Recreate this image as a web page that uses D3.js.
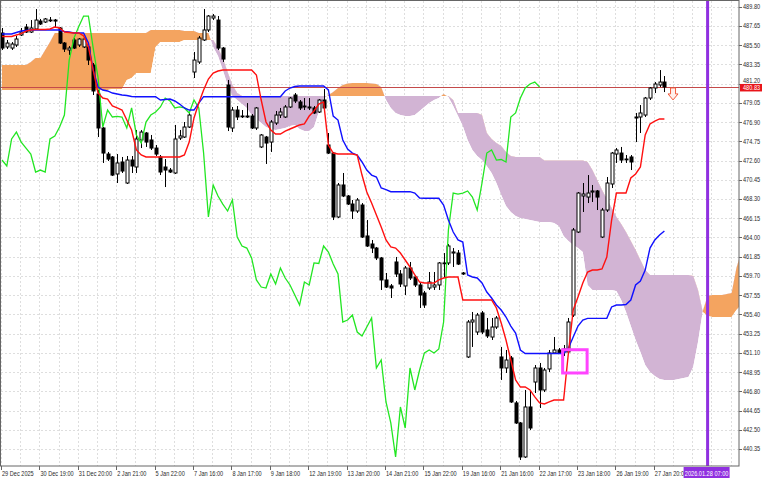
<!DOCTYPE html>
<html><head><meta charset="utf-8">
<script src="https://cdn.jsdelivr.net/npm/d3@7"></script>
<style>
html,body{margin:0;padding:0;background:#fff;}
svg{display:block;}
text{font-family:"Liberation Sans",Arial,sans-serif;font-size:7px;fill:#2a2a2a;}
</style></head><body>
<svg id="chart" width="768" height="480"></svg>
<script>
// ---------- data ----------
const timeLabels = ["29 Dec 2025","30 Dec 19:00","31 Dec 20:00","2 Jan 21:00","5 Jan 22:00","7 Jan 16:00","8 Jan 17:00","9 Jan 18:00","12 Jan 19:00","13 Jan 20:00","14 Jan 21:00","15 Jan 22:00","19 Jan 16:00","21 Jan 16:00","22 Jan 17:00","23 Jan 18:00","26 Jan 19:00","27 Jan 20:00"];
const barsPerLabel = 8;
const priceTicks = [489.80,487.65,485.50,483.35,481.20,479.05,476.90,474.75,472.60,470.45,468.30,466.15,464.00,461.85,459.70,457.55,455.40,453.25,451.10,448.95,446.80,444.65,442.50,440.35];
const currentPrice = 480.83;
const markerTimeLabel = "2026.01.28 07:00";
const markerBar = 147;
const signalArrow = {bar: 139.8, price: 480.72};
const highlightBox = {bar0: 116.8, bar1: 121.9, top: 451.45, bottom: 448.85};

const opens = [486.86,485.30,485.18,485.52,486.64,487.53,486.97,487.31,488.20,488.09,
488.31,488.31,487.42,485.74,484.96,486.08,485.52,485.30,485.30,483.28,
480.04,476.24,473.33,473.00,471.10,472.44,470.09,472.66,471.88,474.90,
475.68,474.90,474.00,473.00,471.88,471.54,471.21,475.12,475.23,476.35,
482.50,483.62,486.08,487.20,488.54,488.31,485.18,481.05,476.24,478.25,
477.58,477.58,477.58,476.24,474.12,475.23,474.67,476.80,477.69,477.47,
478.59,479.93,479.15,478.70,478.59,478.48,478.03,479.37,474.34,473.44,
466.29,469.87,468.64,467.74,466.96,467.63,464.17,463.27,462.82,461.71,
459.25,458.58,461.26,459.92,458.58,460.59,459.58,458.69,457.79,458.35,
458.46,458.69,461.15,461.15,462.26,462.26,460.03,450.64,454.55,453.43,
455.56,453.66,452.87,453.99,450.64,449.41,450.53,445.50,443.26,439.46,
445.05,447.84,449.41,446.95,449.30,451.09,451.42,451.20,451.20,455.33,
464.61,468.64,468.52,469.08,469.20,464.05,467.07,469.98,473.33,473.44,
472.77,473.00,477.36,477.47,477.69,479.59,480.71,481.05,481.38];
const highs = [487.42,486.08,485.85,486.53,487.42,487.87,488.31,489.54,488.43,488.54,
488.65,488.43,487.53,485.85,485.41,486.30,486.30,486.41,485.41,483.51,
480.49,476.35,473.56,473.11,473.33,473.00,473.11,473.11,476.02,476.02,
475.79,475.46,474.34,473.22,472.77,471.77,476.58,476.02,476.91,477.92,
484.74,486.53,489.54,488.87,488.98,488.76,485.30,481.61,478.59,478.70,
478.25,479.03,477.80,478.59,475.57,475.35,477.13,478.14,478.48,478.81,
479.71,480.15,479.37,479.59,479.59,478.70,479.48,480.60,475.68,473.56,
470.09,471.21,468.75,468.19,468.41,467.85,465.95,463.72,462.94,461.82,
460.03,458.80,461.82,460.36,460.81,461.26,459.81,458.91,458.02,460.14,
460.14,461.26,462.26,463.27,462.82,462.60,460.14,454.77,455.67,455.56,
455.78,455.00,455.00,455.22,451.76,451.42,450.75,445.72,443.37,446.95,
446.95,449.74,449.97,449.41,451.42,452.87,451.64,451.98,455.00,465.06,
469.08,470.09,470.98,469.87,469.31,467.30,470.76,473.56,474.00,474.12,
473.22,473.22,477.92,478.81,479.71,480.82,481.38,482.72,482.05];
const lows = [484.96,485.07,484.96,485.30,486.53,486.86,486.86,487.20,487.76,487.98,
488.09,487.53,485.63,484.74,484.40,485.07,485.30,485.18,483.28,479.93,
475.23,472.33,472.55,470.87,470.09,471.21,469.98,471.21,471.21,474.00,
474.12,473.78,473.11,470.98,469.64,471.21,471.10,474.90,475.12,476.24,
481.83,483.40,485.97,486.97,488.31,484.96,483.62,475.90,475.79,477.13,
477.36,477.36,476.13,476.02,474.00,472.22,473.56,476.58,477.36,477.36,
478.48,479.03,478.25,478.25,478.25,477.80,477.92,478.25,473.33,465.95,
466.18,468.52,467.63,466.07,466.74,463.94,462.94,462.26,461.48,458.13,
458.35,457.23,459.58,458.46,457.57,459.25,458.46,456.12,456.12,458.13,
458.13,458.13,459.58,460.92,460.70,460.92,459.81,450.53,451.76,453.10,
453.21,452.76,452.54,453.77,448.07,448.85,445.50,443.15,439.12,439.35,
442.48,446.61,444.94,446.72,448.96,450.97,450.97,450.75,451.09,455.11,
464.50,466.85,467.85,467.97,467.07,463.94,466.85,469.53,472.33,472.33,
472.33,471.54,474.67,475.68,477.47,479.37,480.15,480.82,480.26];
const closes = [485.18,485.74,485.63,486.19,486.97,486.97,487.42,488.31,487.87,488.43,
488.26,488.20,485.74,485.07,485.18,485.18,486.19,486.19,483.84,480.38,
476.24,473.44,472.77,470.98,472.33,471.43,472.66,471.99,475.01,475.79,
474.67,474.00,473.33,471.32,471.54,471.32,475.01,475.35,476.35,477.69,
483.84,486.30,487.20,488.76,488.76,485.18,483.95,476.35,478.25,477.47,
477.53,477.47,476.24,478.48,475.46,474.56,476.91,477.69,478.03,478.59,
479.59,479.26,478.48,478.59,478.48,477.92,479.37,478.48,473.44,466.29,
469.87,468.64,467.74,466.96,468.19,464.05,463.05,462.82,461.71,459.25,
458.46,458.35,459.92,458.80,460.59,459.47,458.69,457.57,456.45,459.02,
458.69,461.15,461.09,463.05,462.38,461.03,459.92,454.55,454.77,455.33,
453.43,452.99,453.99,455.00,449.41,450.30,445.61,443.26,439.46,445.05,
442.70,449.41,446.95,449.18,451.09,451.42,451.09,451.53,454.55,464.84,
468.97,468.86,468.97,469.20,468.52,467.07,470.09,473.44,473.78,472.66,
472.72,472.44,477.47,477.92,479.59,480.71,481.16,481.38,480.83];

const tenkan = [486.47,486.47,486.47,486.64,486.80,487.08,487.20,487.25,487.25,487.25,
487.31,487.53,487.42,486.97,486.92,486.86,486.86,486.53,485.30,482.72,
480.15,479.59,479.48,478.70,478.48,478.25,477.13,476.02,473.78,473.22,
473.00,473.00,473.00,473.00,473.00,473.00,473.00,473.00,473.22,474.67,
477.36,479.03,480.49,481.72,482.39,482.61,482.72,482.72,482.72,482.72,
482.72,482.72,482.72,482.17,479.37,476.91,476.02,475.57,475.57,475.90,
476.13,476.35,476.58,476.69,477.58,478.14,478.92,479.15,474.34,473.44,
473.33,473.33,473.33,473.33,473.22,470.98,469.08,467.85,466.51,465.17,
463.72,462.94,462.82,462.26,461.48,460.70,459.81,459.02,458.91,458.91,
458.91,459.25,459.47,459.58,459.58,459.58,457.01,457.01,457.01,457.01,
457.01,457.01,457.01,456.12,454.44,452.54,450.30,448.07,447.28,447.28,
446.95,446.17,445.50,445.38,445.61,445.83,445.83,445.83,451.09,455.89,
457.35,458.91,460.14,460.36,460.36,460.48,461.82,465.95,468.97,468.97,
468.97,470.65,471.10,471.88,475.46,476.69,477.02,477.25,477.25];
const kijun = [486.75,486.75,486.75,486.92,487.08,487.14,487.20,487.20,487.20,487.20,
487.20,487.20,487.20,487.03,486.97,486.86,486.86,486.86,485.74,482.72,
480.82,480.49,480.38,480.15,480.04,479.93,479.87,479.76,479.74,479.74,
479.74,479.74,479.74,479.37,479.43,479.48,479.26,478.92,478.48,478.25,
478.25,479.03,479.74,479.74,479.74,479.74,479.74,479.74,479.74,479.74,
479.74,479.74,479.74,479.74,479.74,479.74,479.74,479.74,479.74,480.38,
480.71,480.88,480.94,480.94,480.94,480.94,480.94,480.94,480.49,477.58,
477.13,474.90,473.89,473.44,473.22,472.44,471.54,470.98,470.76,469.53,
469.36,469.12,469.12,469.12,469.12,469.12,468.97,468.41,468.38,468.38,
468.38,468.38,467.63,465.95,464.61,463.72,463.49,459.81,459.58,459.47,
458.91,457.90,457.23,456.45,455.89,455.11,454.10,453.32,451.42,451.03,
451.03,451.03,451.03,451.03,451.03,451.03,451.03,451.03,451.64,452.87,
454.10,454.77,454.96,454.96,454.96,454.96,454.96,456.23,456.45,456.45,
456.51,457.01,458.69,459.13,460.36,462.82,463.72,464.28,464.72];
const chikou = [472.66,471.99,475.01,475.79,474.67,474.00,473.33,471.32,471.54,471.32,
475.01,475.35,476.35,477.69,483.84,486.30,487.60,488.76,488.76,485.18,
481.90,476.35,478.25,477.47,477.53,477.47,476.24,478.48,475.46,474.56,
476.91,477.69,478.03,478.59,479.59,479.26,478.48,478.59,478.48,477.92,
479.37,478.48,473.44,466.29,469.87,468.64,467.74,466.96,468.19,464.05,
463.05,462.82,461.71,459.25,458.46,458.35,459.92,458.80,460.59,459.47,
458.69,457.57,456.45,459.02,458.69,461.15,461.09,463.05,462.38,461.03,
459.92,454.55,454.77,455.33,453.43,452.99,453.99,455.00,449.41,450.30,
445.61,443.26,439.46,445.05,442.70,449.41,446.95,449.18,451.09,451.42,
451.09,451.53,454.55,464.84,468.97,468.86,468.97,469.20,468.52,467.07,
470.09,473.44,473.78,472.66,472.72,472.44,477.47,477.92,479.59,480.71,
481.16,481.38,480.83];
const spanA = [483.28,483.28,483.28,483.28,483.28,483.28,483.62,484.07,484.07,484.96,
485.85,486.86,486.86,486.86,486.86,486.86,486.86,486.86,486.86,486.86,
486.86,486.86,486.86,486.86,486.86,486.86,486.86,486.86,486.86,486.86,
486.86,487.20,487.20,487.20,487.20,487.20,487.20,487.20,487.08,487.08,
487.08,486.86,486.86,486.86,485.30,484.29,482.72,481.05,479.82,479.37,
478.92,478.48,477.69,477.25,476.80,476.35,476.13,476.02,476.13,476.24,
476.46,476.58,476.13,475.90,475.90,476.35,478.03,479.48,479.93,480.26,
480.71,481.05,481.21,481.27,481.27,481.27,481.27,481.21,481.16,480.82,
479.37,478.48,477.92,477.69,477.58,477.58,477.69,478.14,478.59,479.03,
479.37,479.59,480.04,479.71,478.70,477.58,476.46,474.90,473.78,473.11,
472.66,471.99,471.21,470.09,468.75,467.52,466.85,466.40,466.18,466.07,
465.95,465.84,465.73,465.73,465.73,465.62,465.28,464.17,463.61,463.16,
462.82,462.38,458.69,458.13,458.13,458.13,458.13,458.13,458.02,457.01,
455.67,454.10,452.54,451.20,449.74,448.96,448.51,448.18,448.07,448.07,
448.07,448.18,448.29,448.40,449.52,452.31,455.78,457.46,457.57,457.57,
457.57,457.68,457.79,460.59,462.38];
const spanB = [480.49,480.49,480.49,480.49,480.49,480.49,480.49,480.49,480.49,480.49,
480.49,480.49,480.49,480.49,480.49,480.49,480.49,480.49,480.49,480.49,
480.49,480.49,480.49,480.60,480.60,480.60,481.61,481.83,482.39,482.39,
482.39,482.39,485.30,485.85,485.85,485.85,485.85,485.85,486.08,486.08,
486.08,486.08,486.08,486.08,486.08,485.18,484.07,482.50,481.05,480.15,
479.82,479.82,479.82,479.82,479.82,479.82,479.82,479.82,479.82,479.82,
479.82,479.82,479.82,479.82,479.82,479.82,479.82,479.82,479.82,479.82,
479.82,479.82,479.82,479.82,479.82,479.82,479.82,479.82,479.82,479.82,
479.82,479.82,479.82,479.82,479.82,479.82,479.82,479.82,479.82,479.82,
479.82,479.82,479.82,479.82,479.37,477.92,477.92,477.92,477.92,477.92,
477.69,475.68,475.01,474.56,474.23,473.56,473.11,473.00,473.00,473.00,
473.00,473.00,473.00,472.61,472.61,472.61,472.61,472.61,472.61,472.61,
472.61,472.61,472.44,471.54,470.43,469.31,468.30,467.30,466.29,465.51,
464.61,463.61,462.60,461.48,460.36,459.81,459.81,459.81,459.81,459.81,
459.81,459.81,459.81,459.81,459.69,458.13,455.67,455.22,455.11,455.11,
455.11,455.11,455.11,455.89,456.45];

// ---------- layout ----------
const svg = d3.select("#chart");
const plot = {left:1, right:739, top:1, bottom:466};
const x = d3.scaleLinear().domain([0,154]).range([2, 741.2]);
const y = d3.scaleLinear().domain([438.45, 490.44]).range([466, 1]);
const squeeze = 0.8; // horizontal squeeze of the small axis font
const at = (px, py) => `translate(${px},${py}) scale(${squeeze},1)`;

svg.append("rect").attr("width",768).attr("height",480).attr("fill","#fff");

const defs = svg.append("defs");
defs.append("clipPath").attr("id","plotClip").append("rect")
  .attr("x",plot.left).attr("y",plot.top).attr("width",plot.right-plot.left).attr("height",plot.bottom-plot.top);

const cloudIdx = d3.range(spanA.length);
defs.append("clipPath").attr("id","aboveB").append("path")
  .attr("d", d3.area().x(i=>x(i)).y0(-50).y1(i=>y(spanB[i]))(cloudIdx));
defs.append("clipPath").attr("id","aboveA").append("path")
  .attr("d", d3.area().x(i=>x(i)).y0(-50).y1(i=>y(spanA[i]))(cloudIdx));

const g = svg.append("g").attr("clip-path","url(#plotClip)");

// grid
const gridBars = d3.range(0, 155, barsPerLabel/2);
g.append("g").selectAll("line").data(gridBars).join("line")
  .attr("x1",d=>Math.round(x(d))-0.5).attr("x2",d=>Math.round(x(d))-0.5)
  .attr("y1",plot.top).attr("y2",plot.bottom)
  .attr("stroke","#dedede").attr("stroke-dasharray","2,2");
g.append("g").selectAll("line").data(priceTicks).join("line")
  .attr("x1",plot.left).attr("x2",plot.right)
  .attr("y1",d=>Math.round(y(d))+0.5).attr("y2",d=>Math.round(y(d))+0.5)
  .attr("stroke","#dedede").attr("stroke-dasharray","2,2");

// cloud
const between = d3.area().x(i=>x(i)).y0(i=>y(spanA[i])).y1(i=>y(spanB[i]));
g.append("g").attr("clip-path","url(#aboveB)").append("path")
  .attr("d", between(cloudIdx)).attr("fill","#F4A460");
g.append("g").attr("clip-path","url(#aboveA)").append("path")
  .attr("d", between(cloudIdx)).attr("fill","#D2B4D4");

// current price line
g.append("line").attr("x1",plot.left).attr("x2",plot.right)
  .attr("y1",Math.round(y(currentPrice))+0.5).attr("y2",Math.round(y(currentPrice))+0.5)
  .attr("stroke","#c44a4a").attr("stroke-width",1);

// candles
const bars = d3.range(opens.length);
const cg = g.append("g");
cg.selectAll("line.wick").data(bars).join("line").attr("class","wick")
  .attr("x1",i=>Math.round(x(i))+0.5).attr("x2",i=>Math.round(x(i))+0.5)
  .attr("y1",i=>y(highs[i])).attr("y2",i=>y(lows[i]))
  .attr("stroke","#000").attr("stroke-width",1);
cg.selectAll("rect.body").data(bars).join("rect").attr("class","body")
  .attr("x",i=>Math.round(x(i))-1)
  .attr("width",3)
  .attr("y",i=>y(Math.max(opens[i],closes[i])))
  .attr("height",i=>Math.max(0.8, Math.abs(y(opens[i])-y(closes[i]))))
  .attr("fill",i=>closes[i]>=opens[i]?"#fff":"#000")
  .attr("stroke","#000").attr("stroke-width",1);

// lines
const line = d3.line().x((d,i)=>x(i)).y(d=>y(d));
g.append("path").attr("d",line(chikou)).attr("fill","none").attr("stroke","#22e622").attr("stroke-width",1.3);
g.append("path").attr("d",line(kijun)).attr("fill","none").attr("stroke","#1010ff").attr("stroke-width",1.4);
g.append("path").attr("d",line(tenkan)).attr("fill","none").attr("stroke","#ff1010").attr("stroke-width",1.4);

// highlight box
g.append("rect")
  .attr("x",x(highlightBox.bar0)).attr("width",x(highlightBox.bar1)-x(highlightBox.bar0))
  .attr("y",y(highlightBox.top)).attr("height",y(highlightBox.bottom)-y(highlightBox.top))
  .attr("fill","none").attr("stroke","#ff44ff").attr("stroke-width",3);

// signal arrow (hollow down arrow)
{
  const ax = x(signalArrow.bar), ay = y(signalArrow.price);
  const p = d3.path();
  p.moveTo(ax-2.5, ay); p.lineTo(ax+2.5, ay); p.lineTo(ax+2.5, ay+6);
  p.lineTo(ax+5, ay+6); p.lineTo(ax, ay+12); p.lineTo(ax-5, ay+6);
  p.lineTo(ax-2.5, ay+6); p.closePath();
  g.append("path").attr("d",p.toString()).attr("fill","#fff0ec").attr("stroke","#f25a3c").attr("stroke-width",1);
}

// vertical marker line
g.append("line").attr("x1",x(markerBar)).attr("x2",x(markerBar))
  .attr("y1",plot.top).attr("y2",plot.bottom)
  .attr("stroke","#9030e0").attr("stroke-width",3);

// frame
svg.append("rect").attr("x",plot.left-0.5).attr("y",plot.top-0.5)
  .attr("width",plot.right-plot.left+0.5).attr("height",plot.bottom-plot.top+0.5)
  .attr("fill","none").attr("stroke","#666").attr("stroke-width",1);

// y axis ticks & labels
const ya = svg.append("g");
ya.selectAll("line").data(priceTicks).join("line")
  .attr("x1",plot.right).attr("x2",plot.right+3)
  .attr("y1",d=>Math.round(y(d))+0.5).attr("y2",d=>Math.round(y(d))+0.5)
  .attr("stroke","#666");
ya.selectAll("text").data(priceTicks).join("text")
  .attr("transform",d=>at(plot.right+4, y(d) + (d===481.20 ? -3.2 : 0)))
  .attr("dy","0.35em")
  .text(d=>d.toFixed(2));

// x axis ticks & labels
const xa = svg.append("g");
xa.selectAll("line").data(timeLabels).join("line")
  .attr("x1",(d,k)=>Math.round(x(k*barsPerLabel))-0.5).attr("x2",(d,k)=>Math.round(x(k*barsPerLabel))-0.5)
  .attr("y1",plot.bottom).attr("y2",plot.bottom+4).attr("stroke","#666");
xa.selectAll("text").data(timeLabels).join("text")
  .attr("transform",(d,k)=>at(x(k*barsPerLabel), 475.5))
  .text(d=>d);

// current price label
{
  const cy = y(currentPrice);
  svg.append("rect").attr("x",plot.right+1).attr("y",cy-3).attr("width",22).attr("height",7.5).attr("fill","#e8141a");
  svg.append("text").attr("transform",at(plot.right+4, cy+0.8)).attr("dy","0.35em").style("fill","#fff").text(currentPrice.toFixed(2));
}

// marker time label
{
  const mx = x(markerBar);
  svg.append("rect").attr("x",mx-24).attr("y",467).attr("width",46).attr("height",11).attr("fill","#9030e0");
  svg.append("text").attr("transform",at(mx-1, 475.5)).attr("text-anchor","middle").style("fill","#fff").text(markerTimeLabel);
}
</script>
</body></html>
